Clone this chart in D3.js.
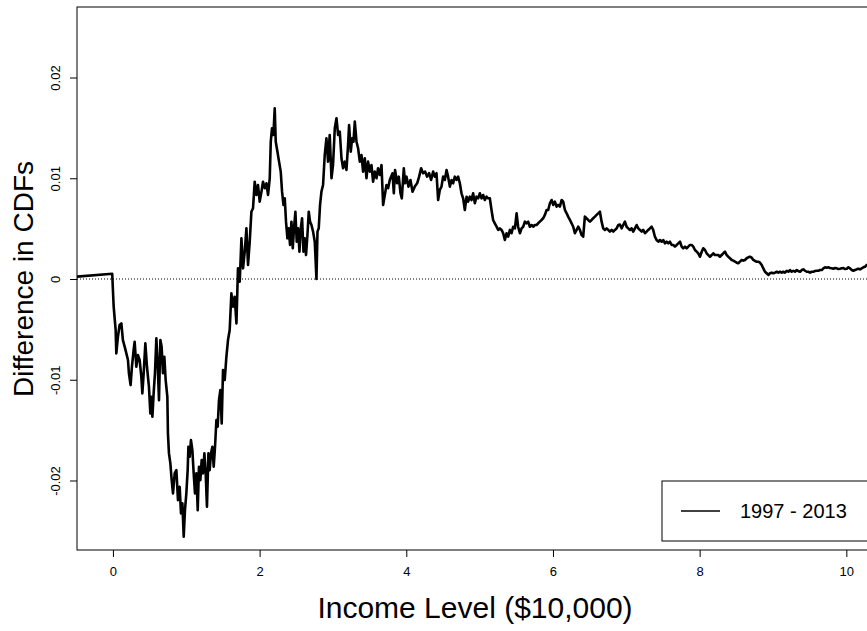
<!DOCTYPE html>
<html>
<head>
<meta charset="utf-8">
<script src="https://cdn.jsdelivr.net/npm/d3@7"></script>
<style>
  html, body { margin: 0; padding: 0; background: #fff; }
  svg { display: block; font-family: "Liberation Sans", Arial, Helvetica, sans-serif; }
</style>
</head>
<body>
<svg id="chart" width="867" height="631"></svg>
<script>
// Income level in units of $10,000
const incomeLevel = [
  -0.495, -0.010, 0.010, 0.037, 0.046, 0.068, 0.091, 0.115, 0.136, 0.160,
  0.183, 0.205, 0.218, 0.241, 0.259, 0.282, 0.296, 0.319, 0.341, 0.364,
  0.387, 0.401, 0.419, 0.442, 0.464, 0.491, 0.510, 0.524, 0.538, 0.555,
  0.573, 0.592, 0.610, 0.628, 0.647, 0.664, 0.682, 0.701, 0.719, 0.742,
  0.750, 0.764, 0.783, 0.801, 0.819, 0.842, 0.865, 0.887, 0.910, 0.928,
  0.947, 0.965, 0.982, 1.001, 1.019, 1.029, 1.046, 1.064, 1.083, 1.101,
  1.119, 1.138, 1.156, 1.173, 1.192, 1.210, 1.228, 1.247, 1.265, 1.282,
  1.302, 1.319, 1.337, 1.356, 1.374, 1.392, 1.411, 1.428, 1.446, 1.465,
  1.483, 1.501, 1.524, 1.547, 1.569, 1.592, 1.615, 1.637, 1.660, 1.684,
  1.705, 1.729, 1.752, 1.774, 1.797, 1.820, 1.842, 1.865, 1.888, 1.910,
  1.933, 1.956, 1.978, 2.001, 2.025, 2.046, 2.070, 2.093, 2.115, 2.138,
  2.152, 2.169, 2.188, 2.206, 2.220, 2.243, 2.265, 2.288, 2.306, 2.325,
  2.343, 2.360, 2.379, 2.397, 2.415, 2.434, 2.452, 2.469, 2.488, 2.506,
  2.524, 2.543, 2.561, 2.579, 2.598, 2.615, 2.633, 2.652, 2.670, 2.688,
  2.707, 2.729, 2.752, 2.775, 2.789, 2.806, 2.824, 2.843, 2.865, 2.888,
  2.911, 2.933, 2.956, 2.980, 3.001, 3.025, 3.048, 3.070, 3.093, 3.116,
  3.138, 3.161, 3.184, 3.206, 3.220, 3.243, 3.261, 3.280, 3.298, 3.321,
  3.343, 3.366, 3.389, 3.411, 3.434, 3.457, 3.479, 3.502, 3.525, 3.547,
  3.570, 3.594, 3.615, 3.639, 3.662, 3.684, 3.707, 3.730, 3.752, 3.775,
  3.812, 3.830, 3.847, 3.875, 3.898, 3.921, 3.939, 3.966, 3.984, 4.003,
  4.030, 4.057, 4.085, 4.116, 4.148, 4.175, 4.202, 4.229, 4.257, 4.284,
  4.311, 4.338, 4.366, 4.389, 4.412, 4.434, 4.457, 4.480, 4.502, 4.525,
  4.549, 4.570, 4.594, 4.617, 4.639, 4.662, 4.685, 4.707, 4.730, 4.753,
  4.775, 4.798, 4.822, 4.843, 4.866, 4.890, 4.911, 4.935, 4.958, 4.980,
  5.003, 5.026, 5.048, 5.071, 5.094, 5.116, 5.139, 5.162, 5.184, 5.207,
  5.231, 5.253, 5.276, 5.299, 5.321, 5.344, 5.367, 5.389, 5.412, 5.435,
  5.457, 5.481, 5.504, 5.525, 5.549, 5.572, 5.594, 5.617, 5.640, 5.662,
  5.685, 5.708, 5.730, 5.753, 5.776, 5.798, 5.821, 5.845, 5.867, 5.890,
  5.913, 5.935, 5.958, 5.981, 6.003, 6.026, 6.049, 6.071, 6.094, 6.118,
  6.139, 6.163, 6.186, 6.207, 6.231, 6.254, 6.276, 6.299, 6.322, 6.344,
  6.367, 6.390, 6.412, 6.435, 6.459, 6.480, 6.504, 6.527, 6.549, 6.572,
  6.595, 6.617, 6.640, 6.663, 6.685, 6.708, 6.731, 6.753, 6.776, 6.800,
  6.822, 6.845, 6.868, 6.890, 6.913, 6.936, 6.958, 6.981, 7.004, 7.026,
  7.049, 7.073, 7.094, 7.118, 7.141, 7.163, 7.186, 7.209, 7.231, 7.254,
  7.277, 7.299, 7.322, 7.345, 7.367, 7.390, 7.414, 7.436, 7.459, 7.482,
  7.504, 7.527, 7.550, 7.572, 7.595, 7.618, 7.640, 7.663, 7.687, 7.708,
  7.732, 7.755, 7.776, 7.800, 7.823, 7.845, 7.868, 7.891, 7.913, 7.936,
  7.959, 7.981, 8.004, 8.028, 8.049, 8.073, 8.096, 8.118, 8.141, 8.164,
  8.186, 8.209, 8.232, 8.254, 8.277, 8.300, 8.322, 8.345, 8.369, 8.390,
  8.414, 8.437, 8.459, 8.482, 8.505, 8.527, 8.550, 8.573, 8.595, 8.618,
  8.641, 8.663, 8.686, 8.710, 8.732, 8.755, 8.778, 8.800, 8.823, 8.846,
  8.868, 8.891, 8.914, 8.936, 8.959, 8.982, 9.004, 9.027, 9.051, 9.073,
  9.096, 9.119, 9.141, 9.164, 9.187, 9.209, 9.232, 9.255, 9.277, 9.300,
  9.324, 9.345, 9.369, 9.392, 9.414, 9.437, 9.460, 9.482, 9.505, 9.528,
  9.550, 9.573, 9.597, 9.618, 9.642, 9.665, 9.687, 9.710, 9.733, 9.755,
  9.778, 9.801, 9.823, 9.846, 9.869, 9.891, 9.914, 9.938, 9.960, 9.983,
  10.006, 10.028, 10.051, 10.074, 10.096, 10.119, 10.142, 10.164, 10.187, 10.210,
  10.232, 10.255, 10.279, 10.400
];

// Difference between the 2013 and 1997 income CDFs at each income level
const cdfDifference = [
  0.00023, 0.00052, -0.00275, -0.00506, -0.00738, -0.00573, -0.00457, -0.00440, -0.00606, -0.00672,
  -0.00738, -0.00804, -0.00936, -0.01053, -0.00871, -0.00705, -0.00623, -0.00871, -0.00755, -0.00804,
  -0.00970, -0.01135, -0.00936, -0.00639, -0.00871, -0.01069, -0.01334, -0.01169, -0.01367, -0.01135,
  -0.00936, -0.00589, -0.00837, -0.01202, -0.00606, -0.00672, -0.00936, -0.00772, -0.01003, -0.01169,
  -0.01532, -0.01731, -0.01830, -0.01996, -0.02128, -0.01929, -0.01897, -0.02195, -0.02062, -0.02327,
  -0.02227, -0.02559, -0.02294, -0.02128, -0.01897, -0.01665, -0.01765, -0.01599, -0.01698, -0.01929,
  -0.02128, -0.01929, -0.02294, -0.01864, -0.01996, -0.01797, -0.01929, -0.01731, -0.01929, -0.02261,
  -0.01731, -0.01897, -0.01731, -0.01665, -0.01864, -0.01665, -0.01400, -0.01467, -0.01202, -0.01102,
  -0.01433, -0.00904, -0.01003, -0.00772, -0.00606, -0.00506, -0.00142, -0.00275, -0.00176, -0.00440,
  0.00106, -0.00027, 0.00404, 0.00106, 0.00271, 0.00503, 0.00139, 0.00370, 0.00668, 0.00702,
  0.00966, 0.00834, 0.00933, 0.00768, 0.00867, 0.00966, 0.00901, 0.00950, 0.00834, 0.01000,
  0.01363, 0.01496, 0.01430, 0.01695, 0.01363, 0.01264, 0.01165, 0.01066, 0.00867, 0.00735,
  0.00801, 0.00569, 0.00404, 0.00503, 0.00338, 0.00569, 0.00305, 0.00503, 0.00668, 0.00370,
  0.00503, 0.00271, 0.00503, 0.00603, 0.00271, 0.00404, 0.00238, 0.00437, 0.00668, 0.00569,
  0.00536, 0.00470, 0.00370, 0.00000, 0.00470, 0.00503, 0.00735, 0.00867, 0.00933, 0.01231,
  0.01397, 0.01165, 0.01430, 0.01000, 0.01132, 0.01496, 0.01596, 0.01430, 0.01463, 0.01199,
  0.01099, 0.01165, 0.01082, 0.01331, 0.01529, 0.01264, 0.01397, 0.01363, 0.01562, 0.01363,
  0.01298, 0.01165, 0.01231, 0.01066, 0.01199, 0.01000, 0.01165, 0.01066, 0.01132, 0.00966,
  0.01066, 0.01000, 0.01099, 0.01033, 0.01132, 0.00735, 0.00834, 0.00933, 0.00901, 0.00983,
  0.01050, 0.00851, 0.01082, 0.00950, 0.01016, 0.00851, 0.00801, 0.01099, 0.00950, 0.01016,
  0.00917, 0.00983, 0.00867, 0.00917, 0.00950, 0.01016, 0.01099, 0.01050, 0.01066, 0.01016,
  0.01050, 0.00983, 0.01066, 0.01016, 0.01050, 0.00784, 0.00884, 0.00917, 0.01016, 0.00983,
  0.01082, 0.01016, 0.00917, 0.00983, 0.00950, 0.01016, 0.00983, 0.01016, 0.00950, 0.00851,
  0.00801, 0.00685, 0.00817, 0.00768, 0.00817, 0.00784, 0.00851, 0.00752, 0.00817, 0.00801,
  0.00851, 0.00801, 0.00834, 0.00784, 0.00817, 0.00801, 0.00801, 0.00685, 0.00586, 0.00553,
  0.00519, 0.00487, 0.00503, 0.00487, 0.00454, 0.00387, 0.00454, 0.00420, 0.00487, 0.00454,
  0.00519, 0.00503, 0.00652, 0.00519, 0.00454, 0.00503, 0.00519, 0.00569, 0.00553, 0.00569,
  0.00519, 0.00536, 0.00519, 0.00536, 0.00536, 0.00553, 0.00569, 0.00586, 0.00603, 0.00636,
  0.00685, 0.00685, 0.00752, 0.00784, 0.00735, 0.00768, 0.00718, 0.00735, 0.00718, 0.00784,
  0.00768, 0.00685, 0.00652, 0.00619, 0.00586, 0.00553, 0.00519, 0.00454, 0.00487, 0.00519,
  0.00487, 0.00437, 0.00420, 0.00619, 0.00603, 0.00586, 0.00569, 0.00586, 0.00603, 0.00619,
  0.00636, 0.00652, 0.00668, 0.00569, 0.00503, 0.00487, 0.00503, 0.00487, 0.00470, 0.00487,
  0.00470, 0.00487, 0.00503, 0.00536, 0.00540, 0.00503, 0.00536, 0.00569, 0.00519, 0.00503,
  0.00487, 0.00503, 0.00470, 0.00503, 0.00536, 0.00503, 0.00487, 0.00470, 0.00487, 0.00454,
  0.00470, 0.00487, 0.00503, 0.00519, 0.00487, 0.00420, 0.00387, 0.00370, 0.00387, 0.00370,
  0.00387, 0.00354, 0.00370, 0.00354, 0.00370, 0.00338, 0.00338, 0.00321, 0.00338, 0.00354,
  0.00370, 0.00321, 0.00305, 0.00321, 0.00305, 0.00321, 0.00338, 0.00338, 0.00321, 0.00288,
  0.00271, 0.00255, 0.00221, 0.00271, 0.00305, 0.00288, 0.00255, 0.00238, 0.00221, 0.00238,
  0.00255, 0.00238, 0.00238, 0.00238, 0.00221, 0.00238, 0.00255, 0.00271, 0.00238, 0.00221,
  0.00206, 0.00189, 0.00182, 0.00172, 0.00162, 0.00156, 0.00172, 0.00189, 0.00182, 0.00189,
  0.00206, 0.00215, 0.00221, 0.00212, 0.00189, 0.00179, 0.00172, 0.00172, 0.00162, 0.00139,
  0.00106, 0.00072, 0.00057, 0.00040, 0.00057, 0.00063, 0.00057, 0.00063, 0.00072, 0.00063,
  0.00072, 0.00063, 0.00072, 0.00063, 0.00082, 0.00072, 0.00089, 0.00072, 0.00082, 0.00072,
  0.00089, 0.00079, 0.00072, 0.00089, 0.00096, 0.00082, 0.00072, 0.00072, 0.00063, 0.00072,
  0.00072, 0.00079, 0.00082, 0.00082, 0.00089, 0.00089, 0.00106, 0.00116, 0.00112, 0.00116,
  0.00109, 0.00106, 0.00102, 0.00109, 0.00106, 0.00099, 0.00102, 0.00106, 0.00109, 0.00099,
  0.00102, 0.00116, 0.00106, 0.00089, 0.00082, 0.00089, 0.00096, 0.00102, 0.00096, 0.00106,
  0.00116, 0.00122, 0.00139, 0.00160
];

const xTicks = [0, 2, 4, 6, 8, 10];
const yTicks = [-0.02, -0.01, 0, 0.01, 0.02];
const yTickLabels = ["-0.02", "-0.01", "0", "0.01", "0.02"];
const seriesName = "1997 - 2013";
const xTitle = "Income Level ($10,000)";
const yTitle = "Difference in CDFs";

const svg = d3.select("#chart");
const plot = { left: 77, top: 7, right: 883, bottom: 550 };

const x = d3.scaleLinear().domain([-0.49, 10.5]).range([plot.left, plot.right]);
const y = d3.scaleLinear().domain([-0.0269, 0.0270]).range([plot.bottom, plot.top]);

const points = incomeLevel.map((v, i) => [v, cdfDifference[i]]);

// clip the drawing to the plot box
svg.append("defs").append("clipPath").attr("id", "plotClip")
  .append("rect")
  .attr("x", plot.left).attr("y", plot.top)
  .attr("width", plot.right - plot.left).attr("height", plot.bottom - plot.top);

// dotted reference line at zero difference
svg.append("line")
  .attr("x1", plot.left).attr("x2", plot.right)
  .attr("y1", y(0)).attr("y2", y(0))
  .attr("stroke", "#000").attr("stroke-width", 1)
  .attr("stroke-dasharray", "1,2");

// CDF difference line
svg.append("path")
  .datum(points)
  .attr("clip-path", "url(#plotClip)")
  .attr("fill", "none")
  .attr("stroke", "#000")
  .attr("stroke-width", 2.6)
  .attr("stroke-linejoin", "round")
  .attr("d", d3.line().x(d => x(d[0])).y(d => y(d[1])));

// bottom axis
const xAxis = d3.axisBottom(x).tickValues(xTicks).tickSize(7).tickPadding(10).tickFormat(d3.format("d"));
const gx = svg.append("g").attr("transform", `translate(0,${plot.bottom})`).call(xAxis);
gx.select(".domain").remove();
gx.selectAll("line").attr("stroke", "#000");
gx.selectAll("text").attr("font-size", 13).attr("fill", "#000")
  .attr("font-family", "'Liberation Sans', Arial, sans-serif");

// left axis with rotated labels
const yAxis = d3.axisLeft(y).tickValues(yTicks).tickSize(7).tickFormat((d, i) => yTickLabels[i]);
const gy = svg.append("g").attr("transform", `translate(${plot.left},0)`).call(yAxis);
gy.select(".domain").remove();
gy.selectAll("line").attr("stroke", "#000");
gy.selectAll("text")
  .attr("font-size", 13).attr("fill", "#000")
  .attr("font-family", "'Liberation Sans', Arial, sans-serif")
  .attr("x", null).attr("dy", null)
  .attr("text-anchor", "middle")
  .attr("transform", "translate(-17,0) rotate(-90)");

// plot frame
svg.append("rect")
  .attr("x", plot.left).attr("y", plot.top)
  .attr("width", plot.right - plot.left).attr("height", plot.bottom - plot.top)
  .attr("fill", "none").attr("stroke", "#000").attr("stroke-width", 1);

// axis titles
svg.append("text")
  .attr("x", 475).attr("y", 618)
  .attr("text-anchor", "middle")
  .attr("font-size", 30).attr("fill", "#000")
  .text(xTitle);

svg.append("text")
  .attr("transform", `translate(33,${y(0)}) rotate(-90)`)
  .attr("text-anchor", "middle")
  .attr("font-size", 28).attr("fill", "#000")
  .text(yTitle);

// legend
const legend = svg.append("g");
legend.append("rect")
  .attr("x", 662).attr("y", 481)
  .attr("width", 240).attr("height", 60)
  .attr("fill", "#fff").attr("stroke", "#000").attr("stroke-width", 1);
legend.append("line")
  .attr("x1", 681).attr("x2", 720).attr("y1", 511).attr("y2", 511)
  .attr("stroke", "#000").attr("stroke-width", 1.5);
legend.append("text")
  .attr("x", 740).attr("y", 518)
  .attr("font-size", 20).attr("fill", "#000")
  .text(seriesName);
</script>
</body>
</html>
